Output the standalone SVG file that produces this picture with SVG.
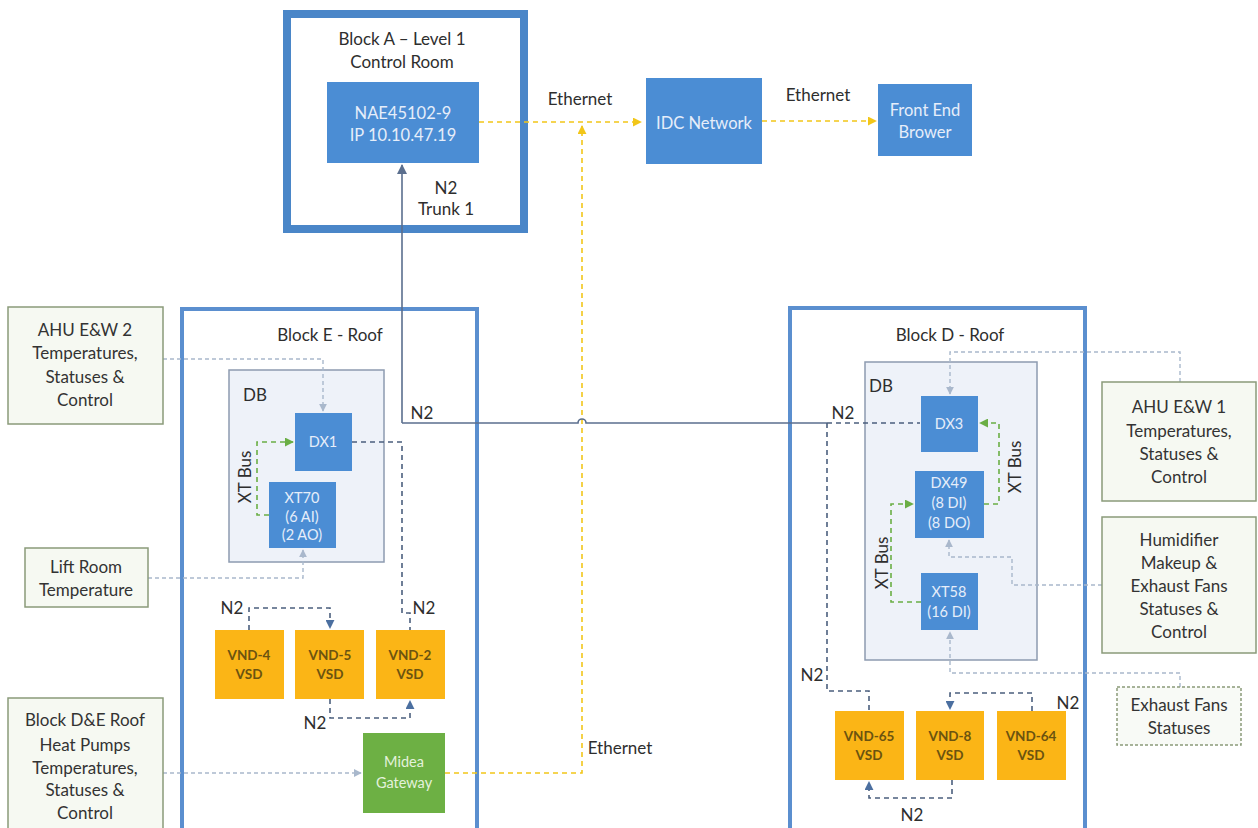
<svg xmlns="http://www.w3.org/2000/svg" width="1258" height="828" viewBox="0 0 1258 828">
<defs>
<style>
text{font-family:Lato,"Open Sans","Liberation Sans",sans-serif;text-anchor:middle;}
.lbl{font-size:17px;fill:#2e2e2e;}
.side{font-size:17px;fill:#333;}
.bt{font-size:16.5px;fill:#e6eefa;}
.st{font-size:14.5px;fill:#e6eefa;}
.vt{font-size:13.5px;fill:#6b5310;font-weight:bold;}
.gt{font-size:14.5px;fill:#e4f2dc;}
.frameA{fill:none;stroke:#4a86c8;stroke-width:8;}
.frame{fill:none;stroke:#5b8fcf;stroke-width:4;}
.db{fill:#eef2f9;stroke:#8d9bb0;stroke-width:1.5;}
.blue{fill:#4b8dd4;}
.vnd{fill:#fbb516;}
.green{fill:#6db044;}
.sbox{fill:#f6f9f2;stroke:#8a9a7a;stroke-width:1.5;}
.sboxd{fill:#f8faf6;stroke:#8a9a7a;stroke-width:1.5;stroke-dasharray:3 2;}
.eth{fill:none;stroke:#f2c619;stroke-width:1.6;stroke-dasharray:5 4;}
.trunk{fill:none;stroke:#5b6f8e;stroke-width:1.6;}
.n2{fill:none;stroke:#4b5f7e;stroke-width:1.6;stroke-dasharray:5 4;}
.xt{fill:none;stroke:#6aae45;stroke-width:1.6;stroke-dasharray:5 4;}
.lt{fill:none;stroke:#a9b8cc;stroke-width:1.4;stroke-dasharray:4 3;}
</style>
<marker id="aY" viewBox="0 0 10 10" refX="9" refY="5" markerWidth="9" markerHeight="9" markerUnits="userSpaceOnUse" orient="auto"><path d="M0,0 L10,5 L0,10 z" fill="#f2c619"/></marker>
<marker id="aT" viewBox="0 0 10 10" refX="9" refY="5" markerWidth="10" markerHeight="10" markerUnits="userSpaceOnUse" orient="auto"><path d="M0,0 L10,5 L0,10 z" fill="#5b6f8e"/></marker>
<marker id="aN" viewBox="0 0 10 10" refX="9" refY="5" markerWidth="9" markerHeight="9" markerUnits="userSpaceOnUse" orient="auto"><path d="M0,0 L10,5 L0,10 z" fill="#4b6fa0"/></marker>
<marker id="aG" viewBox="0 0 10 10" refX="9" refY="5" markerWidth="9" markerHeight="9" markerUnits="userSpaceOnUse" orient="auto"><path d="M0,0 L10,5 L0,10 z" fill="#6aae45"/></marker>
<marker id="aL" viewBox="0 0 10 10" refX="9" refY="5" markerWidth="8" markerHeight="8" markerUnits="userSpaceOnUse" orient="auto"><path d="M0,0 L10,5 L0,10 z" fill="#a9b8cc"/></marker>
</defs>
<rect width="1258" height="828" fill="#fff"/>

<g id="blockA">
<rect class="frameA" x="287" y="14" width="237" height="215"/>
<text class="lbl" x="402" y="45">Block A – Level 1</text>
<text class="lbl" x="402" y="68">Control Room</text>
</g>
<g id="blockE">
<rect class="frame" x="182" y="309" width="295" height="540"/>
<text class="lbl" x="330" y="341">Block E - Roof</text>
</g>
<g id="blockD">
<rect class="frame" x="790" y="308" width="295" height="540"/>
<text class="lbl" x="950" y="341">Block D - Roof</text>
</g>
<g id="dbE">
<rect class="db" x="229" y="370" width="155" height="192"/>
<text class="lbl" x="255" y="401">DB</text>
</g>
<g id="dbD">
<rect class="db" x="865" y="362" width="172" height="298"/>
<text class="lbl" x="881" y="392">DB</text>
</g>

<g id="connectors">
<path class="eth" d="M479,122 H641" marker-end="url(#aY)"/>
<path class="eth" d="M762,121 H876" marker-end="url(#aY)"/>
<path class="eth" d="M445,773 H582 V126" marker-end="url(#aY)"/>
<path class="trunk" d="M402,423 V165" marker-end="url(#aT)"/>
<path class="trunk" d="M402,423 H578 a4,4 0 0 1 8,0 H827"/>
<path class="n2" d="M827,423 H920"/>
<path class="n2" d="M827,423 V691 H869 V711"/>
<path class="n2" d="M352,442 H402 V613 H410 V630"/>
<path class="n2" d="M249,630 V608 H330 V628" marker-end="url(#aN)"/>
<path class="n2" d="M330,699 V718 H410 V701" marker-end="url(#aN)"/>
<path class="n2" d="M1032,711 V693 H950 V709" marker-end="url(#aN)"/>
<path class="n2" d="M952,780 V798 H869 V782" marker-end="url(#aN)"/>
<path class="xt" d="M269,515 H257 V442 H293" marker-end="url(#aG)"/>
<path class="xt" d="M984,504 H999 V423 H980" marker-end="url(#aG)"/>
<path class="xt" d="M921,602 H891 V504 H913" marker-end="url(#aG)"/>
<path class="lt" d="M163,359 H323 V411" marker-end="url(#aL)"/>
<path class="lt" d="M148,578 H303 V550" marker-end="url(#aL)"/>
<path class="lt" d="M163,773 H361" marker-end="url(#aL)"/>
<path class="lt" d="M1180,382 V352 H950 V394" marker-end="url(#aL)"/>
<path class="lt" d="M1102,585 H1012 V557 H949 V540" marker-end="url(#aL)"/>
<path class="lt" d="M1180,687 V673 H950 V632" marker-end="url(#aL)"/>
<text class="lbl" x="580" y="105">Ethernet</text>
<text class="lbl" x="818" y="101">Ethernet</text>
<text class="lbl" x="620" y="754">Ethernet</text>
<text class="lbl" x="446" y="194">N2</text>
<text class="lbl" x="446" y="215">Trunk 1</text>
<text class="lbl" x="422" y="419">N2</text>
<text class="lbl" x="843" y="419">N2</text>
<text class="lbl" x="232" y="614">N2</text>
<text class="lbl" x="424" y="614">N2</text>
<text class="lbl" x="315" y="729">N2</text>
<text class="lbl" x="812" y="681">N2</text>
<text class="lbl" x="1068" y="709">N2</text>
<text class="lbl" x="912" y="821">N2</text>
<text class="lbl" transform="translate(251,477) rotate(-90)">XT Bus</text>
<text class="lbl" transform="translate(1021,467) rotate(-90)">XT Bus</text>
<text class="lbl" transform="translate(888,563) rotate(-90)">XT Bus</text>
</g>

<g id="nae">
<rect class="blue" x="327" y="82" width="152" height="81"/>
<text class="bt" x="403" y="119">NAE45102-9</text>
<text class="bt" x="403" y="141">IP 10.10.47.19</text>
</g>
<g id="idc">
<rect class="blue" x="646" y="78" width="116" height="86"/>
<text class="bt" x="704" y="129">IDC Network</text>
</g>
<g id="frontend">
<rect class="blue" x="878" y="84" width="94" height="72"/>
<text class="bt" x="925" y="116">Front End</text>
<text class="bt" x="925" y="138">Brower</text>
</g>
<g id="dx1">
<rect class="blue" x="295" y="413" width="57" height="58"/>
<text class="st" x="323" y="447">DX1</text>
</g>
<g id="xt70">
<rect class="blue" x="269" y="482" width="67" height="66"/>
<text class="st" x="302" y="503">XT70</text>
<text class="st" x="302" y="522">(6 AI)</text>
<text class="st" x="302" y="540">(2 AO)</text>
</g>
<g id="dx3">
<rect class="blue" x="921" y="396" width="57" height="56"/>
<text class="st" x="949" y="429">DX3</text>
</g>
<g id="dx49">
<rect class="blue" x="915" y="471" width="69" height="67"/>
<text class="st" x="949" y="488">DX49</text>
<text class="st" x="949" y="508">(8 DI)</text>
<text class="st" x="949" y="528">(8 DO)</text>
</g>
<g id="xt58">
<rect class="blue" x="921" y="573" width="57" height="57"/>
<text class="st" x="949" y="597">XT58</text>
<text class="st" x="949" y="617">(16 DI)</text>
</g>
<g id="vnd4">
<rect class="vnd" x="215" y="630" width="69" height="69"/>
<text class="vt" x="249" y="660">VND-4</text>
<text class="vt" x="249" y="679">VSD</text>
</g>
<g id="vnd5">
<rect class="vnd" x="295" y="630" width="69" height="69"/>
<text class="vt" x="330" y="660">VND-5</text>
<text class="vt" x="330" y="679">VSD</text>
</g>
<g id="vnd2">
<rect class="vnd" x="376" y="630" width="69" height="69"/>
<text class="vt" x="410" y="660">VND-2</text>
<text class="vt" x="410" y="679">VSD</text>
</g>
<g id="midea">
<rect class="green" x="363" y="733" width="82" height="80"/>
<text class="gt" x="404" y="767">Midea</text>
<text class="gt" x="404" y="788">Gateway</text>
</g>
<g id="vnd65">
<rect class="vnd" x="835" y="711" width="69" height="69"/>
<text class="vt" x="869" y="741">VND-65</text>
<text class="vt" x="869" y="760">VSD</text>
</g>
<g id="vnd8">
<rect class="vnd" x="916" y="711" width="68" height="69"/>
<text class="vt" x="950" y="741">VND-8</text>
<text class="vt" x="950" y="760">VSD</text>
</g>
<g id="vnd64">
<rect class="vnd" x="997" y="711" width="69" height="69"/>
<text class="vt" x="1031" y="741">VND-64</text>
<text class="vt" x="1031" y="760">VSD</text>
</g>
<g id="ahu2">
<rect class="sbox" x="8" y="307" width="155" height="117"/>
<text class="side" x="85" y="336">AHU E&amp;W 2</text>
<text class="side" x="85" y="359">Temperatures,</text>
<text class="side" x="85" y="383">Statuses &amp;</text>
<text class="side" x="85" y="406">Control</text>
</g>
<g id="liftroom">
<rect class="sbox" x="25" y="548" width="123" height="59"/>
<text class="side" x="86" y="573">Lift Room</text>
<text class="side" x="86" y="596">Temperature</text>
</g>
<g id="heatpumps">
<rect class="sbox" x="8" y="698" width="155" height="135"/>
<text class="side" x="85" y="726">Block D&amp;E Roof</text>
<text class="side" x="85" y="751">Heat Pumps</text>
<text class="side" x="85" y="774">Temperatures,</text>
<text class="side" x="85" y="796">Statuses &amp;</text>
<text class="side" x="85" y="819">Control</text>
</g>
<g id="ahu1">
<rect class="sbox" x="1102" y="382" width="154" height="119"/>
<text class="side" x="1179" y="413">AHU E&amp;W 1</text>
<text class="side" x="1179" y="437">Temperatures,</text>
<text class="side" x="1179" y="460">Statuses &amp;</text>
<text class="side" x="1179" y="483">Control</text>
</g>
<g id="humidifier">
<rect class="sbox" x="1102" y="517" width="154" height="136"/>
<text class="side" x="1179" y="546">Humidifier</text>
<text class="side" x="1179" y="569">Makeup &amp;</text>
<text class="side" x="1179" y="592">Exhaust Fans</text>
<text class="side" x="1179" y="615">Statuses &amp;</text>
<text class="side" x="1179" y="638">Control</text>
</g>
<g id="exhaust">
<rect class="sboxd" x="1117" y="687" width="124" height="58"/>
<text class="side" x="1179" y="711">Exhaust Fans</text>
<text class="side" x="1179" y="734">Statuses</text>
</g>
</svg>
